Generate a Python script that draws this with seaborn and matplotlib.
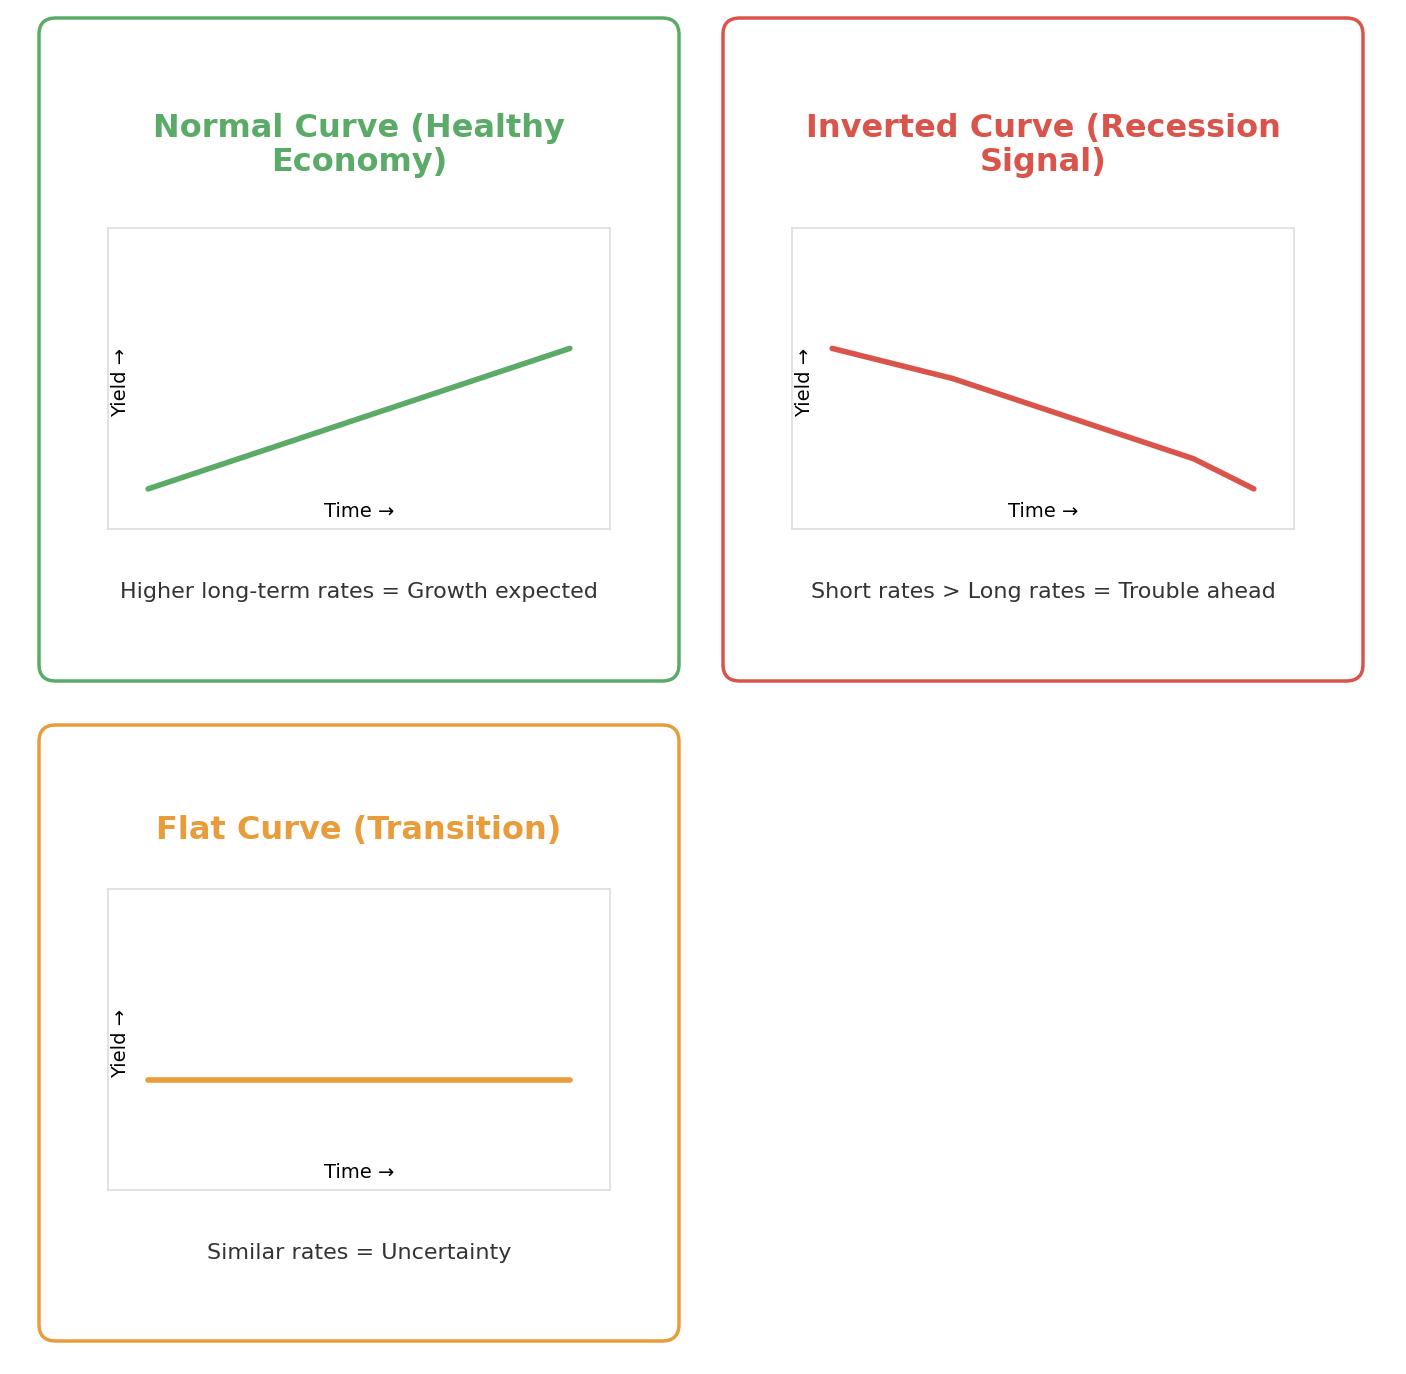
import matplotlib
matplotlib.use("Agg")
import matplotlib.pyplot as plt
from matplotlib.patches import FancyBboxPatch
import seaborn as sns
import pandas as pd

sns.set_theme(style="white")
plt.rcParams['font.family'] = ['DejaVu Sans']

titles = ["Normal Curve (Healthy\nEconomy)", "Inverted Curve (Recession\nSignal)", "Flat Curve (Transition)"]
descs = ["Higher long-term rates = Growth expected", "Short rates > Long rates = Trouble ahead", "Similar rates = Uncertainty"]
colors = ["#5aab67", "#d9544a", "#e89c3a"]
normal_x = [20, 230]; normal_y = [130, 60]
inv_x = [20, 80, 140, 200, 230]; inv_y = [60, 75, 95, 115, 130]
flat_x = [20, 230]; flat_y = [95, 95]
series = [(normal_x, normal_y), (inv_x, inv_y), (flat_x, flat_y)]

W, H = 1406, 1374
fig = plt.figure(figsize=(W/100, H/100), dpi=100)

cards = [(39, 18, 640, 663, 228), (723, 18, 640, 663, 228), (39, 725, 640, 616, 889)]
title_y = [(123, 168), (123, 168), (830,)]
for i, (cx, cy, cw, ch, by) in enumerate(cards):
    p = FancyBboxPatch((cx/W, 1-(cy+ch)/H), cw/W, ch/H, boxstyle="round,pad=0,rounding_size=0.012",
                       transform=fig.transFigure, fill=False, edgecolor=colors[i], linewidth=2.5)
    fig.patches.append(p)
    tcy = sum(title_y[i])/len(title_y[i])
    fig.text((cx+cw/2)/W, 1-tcy/H, titles[i], ha='center', va='center', fontsize=23,
             fontweight='bold', color=colors[i], linespacing=1.1)
    bx = cx + 69
    ax = fig.add_axes([bx/W, 1-(by+301)/H, 502/W, 301/H])
    x, y = series[i]
    df = pd.DataFrame({"t": x, "y": y})
    sns.lineplot(data=df, x="t", y="y", ax=ax, color=colors[i], linewidth=4, sort=False)
    ax.set_xlim(0, 250); ax.set_ylim(150, 0)
    ax.set_xticks([]); ax.set_yticks([]); ax.set_xlabel(""); ax.set_ylabel("")
    for s in ax.spines.values():
        s.set_color("#dddddd"); s.set_linewidth(1.2)
    ax.text(125, 141.5, "Time →", ha='center', va='center', fontsize=14, color='black')
    ax.text(6, 77, "Yield →", ha='center', va='center', rotation=90, fontsize=14, color='black')
    fig.text((cx+cw/2)/W, 1-(by+364)/H, descs[i], ha='center', va='center', fontsize=16, color='#333333')

fig.savefig("out.png", dpi=100)
